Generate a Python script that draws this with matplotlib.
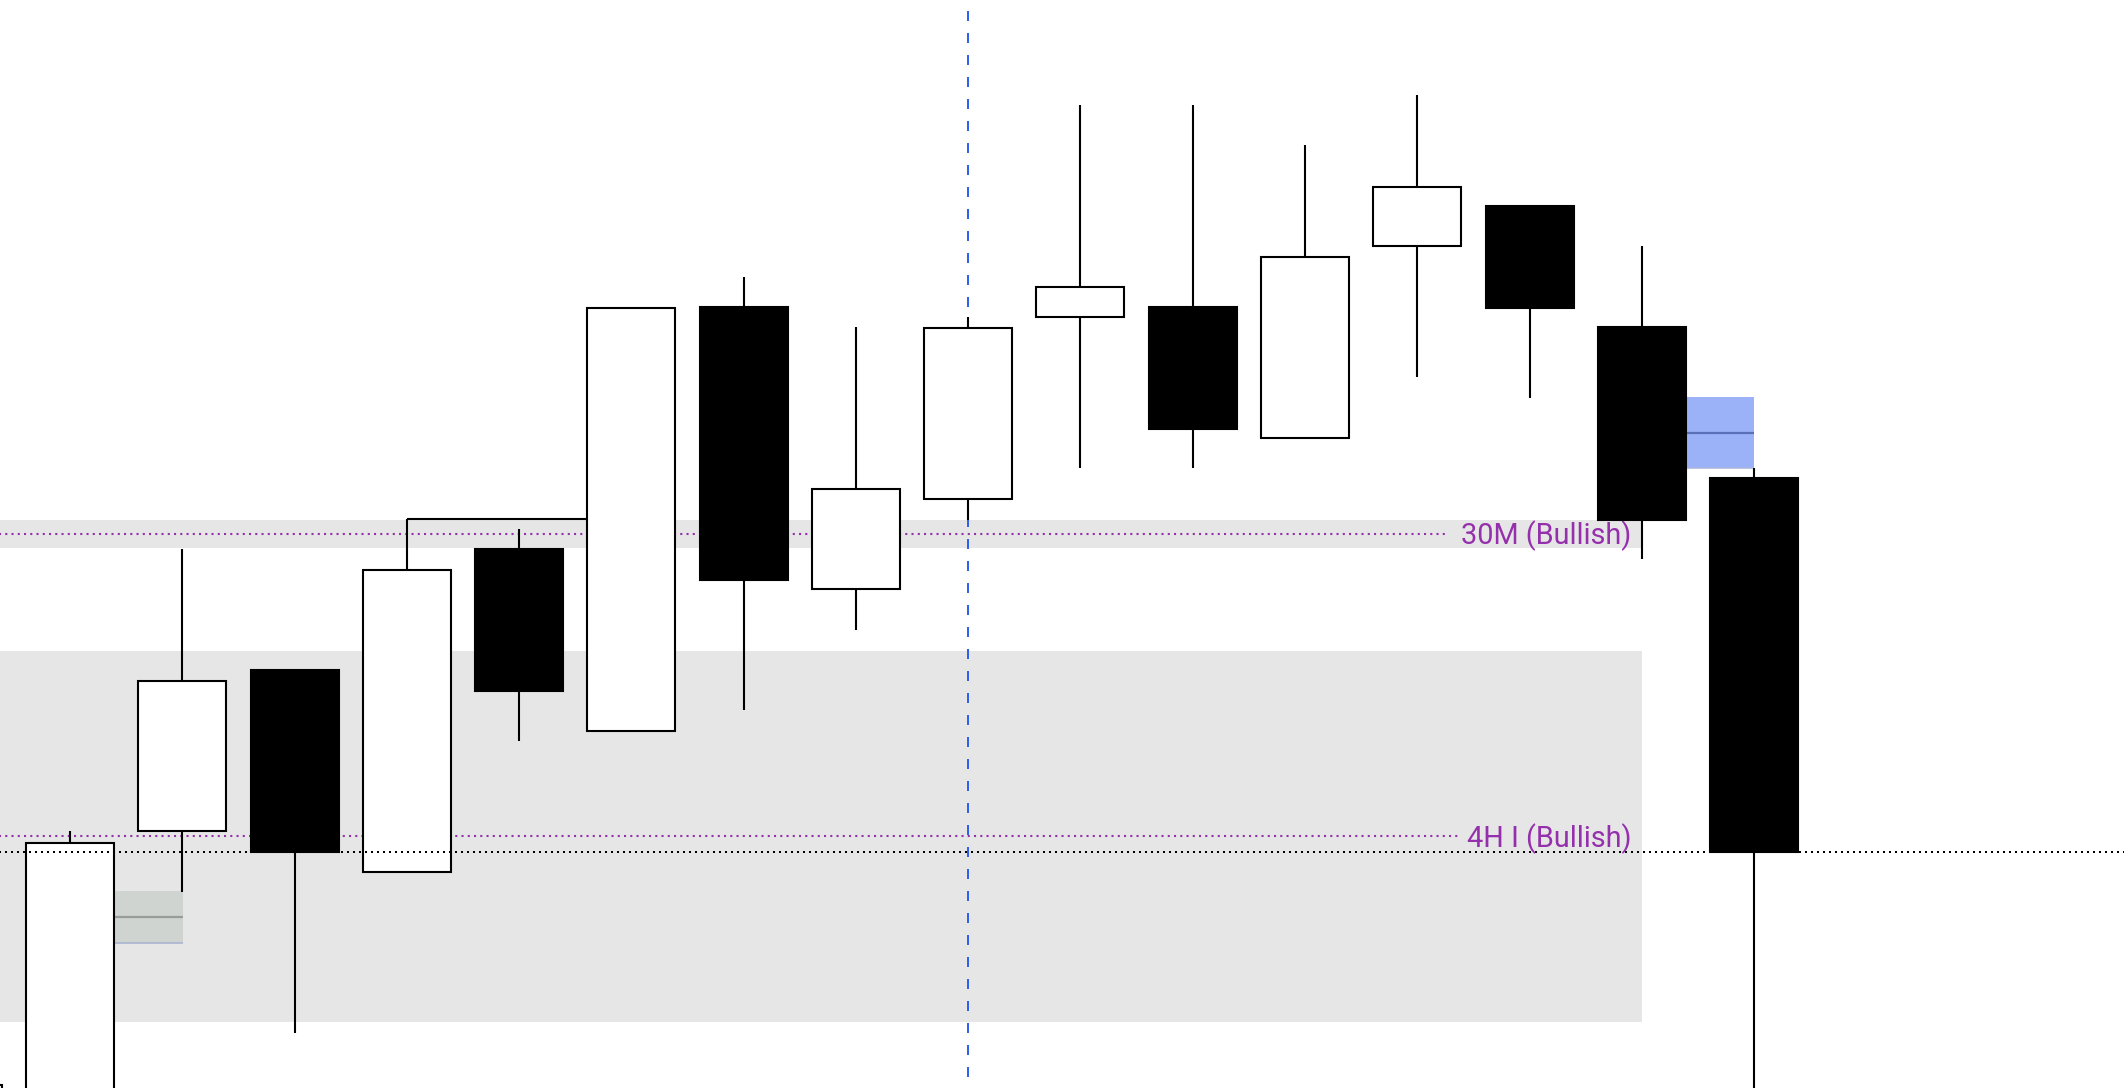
import matplotlib
matplotlib.use("Agg")
import matplotlib.pyplot as plt
from matplotlib.patches import Rectangle

plt.rcParams["font.family"] = ["Roboto", "DejaVu Sans"]

# candle data (arbitrary price units), index 0 = first full candle on the left
idx = [-1, 0, 1, 2, 3, 4, 5, 6, 7, 8, 9, 10, 11, 12, 13, 14, 15]
opens = [-62, -62, 257, 418, 216, 539, 357, 781, 499, 589, 771, 781, 650, 842, 882, 761, 610]
closes = [3, 245, 407, 236, 518, 397, 780, 508, 599, 760, 801, 659, 831, 901, 780, 568, 236]
highs = [3, 257, 539, 418, 569, 559, 780, 811, 761, 771, 983, 983, 943, 993, 882, 842, 620]
lows = [-70, -80, 196, 55, 216, 347, 357, 378, 458, 568, 620, 620, 650, 711, 690, 529, -80]

# zones and levels
zone_30m = (540, 568)
zone_4h = (66, 437)
zone_end = 14.0
level_30m = 554
level_4h = 252
level_close = 236
swing_high = 569
swing_from, swing_to = 3, 5
marker_idx = 8

gray_box = (0.394, 1.01, 145, 197, 171)   # x0, x1, y0, y1, mid
blue_box = (14.40, 15.0, 620, 691, 655)

BODY_W = 0.784
LW = 1.5

fig = plt.figure(figsize=(21.24, 10.88), dpi=100)
ax = fig.add_axes([0, 0, 1, 1])
ax.set_xlim(-0.6235, 18.295)
ax.set_ylim(0, 1088)
ax.axis("off")

# shaded zones
x_left = -2
ax.add_patch(Rectangle((x_left, zone_30m[0]), zone_end - x_left,
                       zone_30m[1] - zone_30m[0], color="#e6e6e6", lw=0, zorder=0))
ax.add_patch(Rectangle((x_left, zone_4h[0]), zone_end - x_left,
                       zone_4h[1] - zone_4h[0], color="#e6e6e6", lw=0, zorder=0))

# small boxes
x0, x1, y0, y1, ym = gray_box
ax.add_patch(Rectangle((x0, y0), x1 - x0, y1 - y0, color="#d0d4d0", lw=0, zorder=1))
ax.hlines(ym, x0, x1, color="#999d99", lw=1.6, zorder=1)
ax.hlines(y0, x0, x1, color="#aab4d0", lw=1.2, zorder=1)
x0, x1, y0, y1, ym = blue_box
ax.add_patch(Rectangle((x0, y0), x1 - x0, y1 - y0, color="#9bb1f8", lw=0, zorder=1))
ax.hlines(ym, x0, x1, color="#5a70b8", lw=1.6, zorder=1)
ax.hlines(y0, x0, x1, color="#aab8e0", lw=1.2, zorder=1)

# purple levels with labels
purple = "#9530ac"
ax.hlines(level_30m, x_left, 12.27, color=purple, lw=1.5,
          linestyles=(0, (1, 2)), zorder=1)
ax.hlines(level_4h, x_left, 12.36, color=purple, lw=1.5,
          linestyles=(0, (1, 2)), zorder=1)
ax.text(13.91, level_30m - 2, "30M (Bullish)", color=purple, fontsize=20.8,
        ha="right", va="center", zorder=1)
ax.text(13.91, level_4h - 3, "4H I (Bullish)", color=purple, fontsize=20.8,
        ha="right", va="center", zorder=1)

# vertical marker
ax.vlines(marker_idx, 11, 1078, color="#2f62ec", lw=1.44,
          linestyles=(0, (5, 6)), zorder=1)

# swing line from candle high
ax.hlines(swing_high, swing_from, swing_to - BODY_W / 2, color="black", lw=LW, zorder=2)

# candles
for i, o, c, h, l in zip(idx, opens, closes, highs, lows):
    ax.vlines(i, l, h, color="black", lw=LW, zorder=2)
    bull = c >= o
    ax.bar(i, abs(c - o), bottom=min(o, c), width=BODY_W,
           color="white" if bull else "black", edgecolor="black",
           linewidth=LW, zorder=3)

# close level on top
ax.hlines(level_close, x_left, 20, color="black", lw=1.44,
          linestyles=(0, (1, 2)), zorder=4)

fig.savefig("out.png", dpi=100)
